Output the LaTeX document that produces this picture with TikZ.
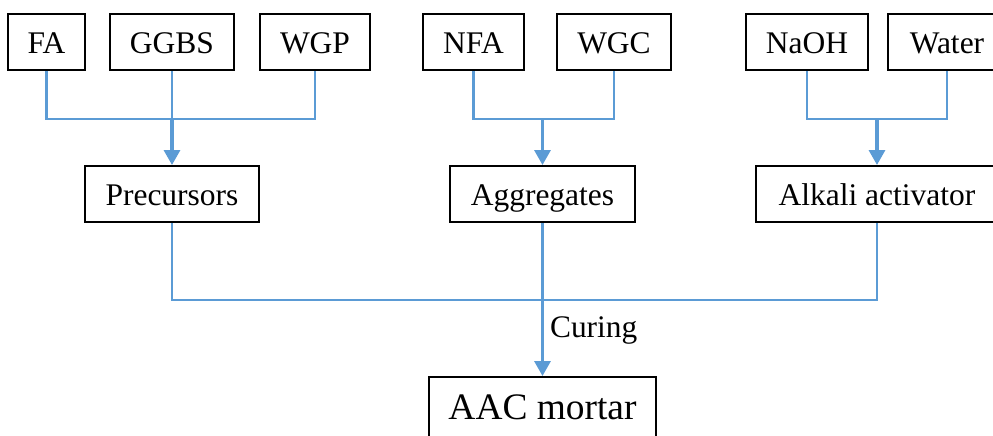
\documentclass[tikz,border=0pt]{standalone}
\usepackage{fontspec}
\setmainfont{Liberation Serif}
\usepackage{xcolor}
\usetikzlibrary{arrows.meta}
\definecolor{linkblue}{RGB}{91,155,213}

\begin{document}
\begin{tikzpicture}[x=0.5pt, y=-0.5pt,
		box/.style={draw, line width=1pt, minimum height=28pt, inner sep=0pt,
			text height=11pt, text depth=0pt, font=\fontsize{15.75}{18}\selectfont},
		link/.style={draw=linkblue, line width=1.15pt},
		arr/.style={draw=linkblue, line width=1.6pt, -{Triangle[width=8pt, length=7.5pt]}}]
			\clip (0,0) rectangle (993,435);

			\node[box, minimum width=38.5pt] (fa) at (46.5,42) {FA};
			\node[box, minimum width=62pt] (ggbs) at (172,42) {GGBS};
			\node[box, minimum width=55pt] (wgp) at (315,42) {WGP};
			\node[box, minimum width=50.5pt] (nfa) at (473.5,42) {NFA};
			\node[box, minimum width=57pt] (wgc) at (614,42) {WGC};
			\node[box, minimum width=61pt] (naoh) at (807,42) {NaOH};
			\node[box, minimum width=59pt] (water) at (947,42) {Water};

			\node[box, minimum width=87pt] (prec) at (172,194) {Precursors};
			\node[box, minimum width=92.5pt] (agg) at (542.5,194) {Aggregates};
			\node[box, minimum width=121pt] (alk) at (877,194) {Alkali activator};

			\node[box, minimum width=113.5pt, minimum height=30pt, text height=12.4pt,
				font=\fontsize{18.7}{22}\selectfont] (aac) at (542.5,407) {AAC mortar};

			\coordinate (jprec) at (172,119);
			\coordinate (jagg) at (542.5,119);
			\coordinate (jalk) at (877,119);
			\coordinate (jmix) at (542.5,300);

			% raw materials
			\draw[link] (fa.south) |- (jprec);
			\draw[link] (wgp.south) |- (jprec);
			\draw[link] (ggbs.south) -- (jprec);
			\draw[arr] (jprec) -- (prec.north);

			\draw[link] (nfa.south) |- (jagg);
			\draw[link] (wgc.south) |- (jagg);
			\draw[arr] (jagg) -- (agg.north);

			\draw[link] (naoh.south) |- (jalk);
			\draw[link] (water.south) |- (jalk);
			\draw[arr] (jalk) -- (alk.north);

			% mixing
			\draw[link] (prec.south) |- (jmix);
			\draw[link] (alk.south) |- (jmix);
			\draw[link] (agg.south) -- (jmix);
			\draw[arr] (jmix) -- node[pos=0.35, right, inner sep=3pt, text height=10.4pt, text depth=0pt,
				font=\fontsize{15.7}{18}\selectfont] (curing) {Curing} (aac.north);
		\end{tikzpicture}
\end{document}
